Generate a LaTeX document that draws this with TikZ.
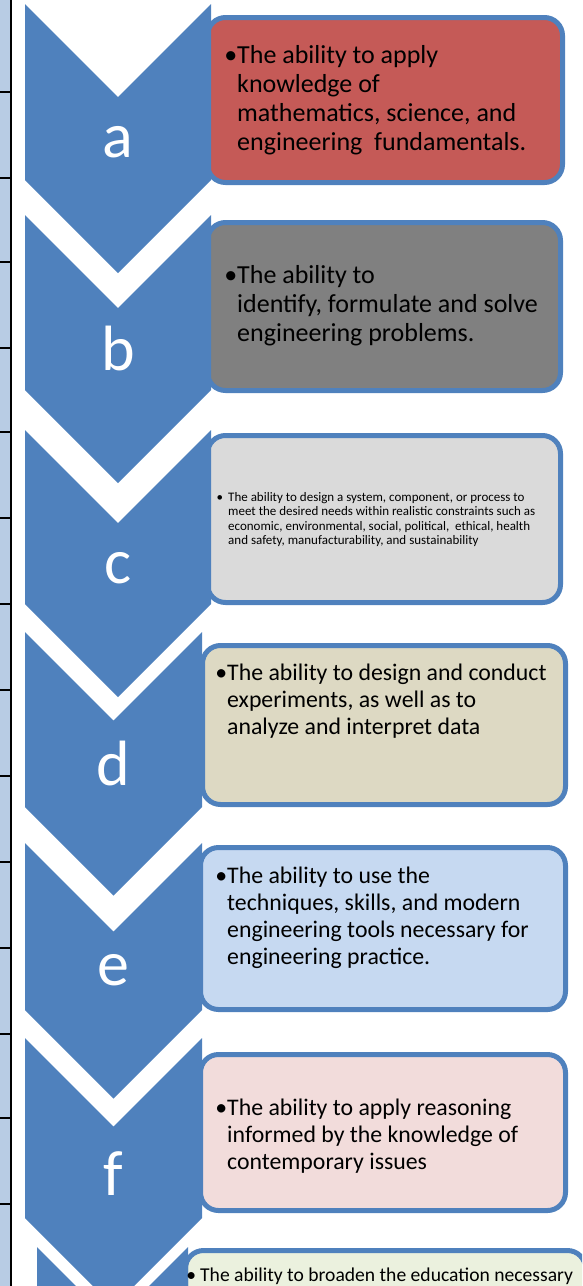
\documentclass[tikz,border=0pt]{standalone}
\usepackage{fontspec}
\setmainfont{Carlito}
\usepackage{tikz}
\usetikzlibrary{positioning}
\definecolor{chevblue}{HTML}{4F81BD}
\definecolor{cellblue}{HTML}{B8CCE4}
\definecolor{fillA}{HTML}{C55A57}
\definecolor{fillB}{HTML}{808080}
\definecolor{fillC}{HTML}{DADADA}
\definecolor{fillD}{HTML}{DDD9C3}
\definecolor{fillE}{HTML}{C6D9F1}
\definecolor{fillF}{HTML}{F2DCDB}
\definecolor{fillG}{HTML}{EBF1DE}

\begin{document}
\begin{tikzpicture}[x=1pt, y=-1pt,
    chevron/.style={fill=chevblue},
    outcome/.style={draw=chevblue, line width=5pt, rounded corners=18pt, anchor=north west, inner sep=0pt, outer sep=0pt},
    letter/.style={text=white, anchor=base, font=\fontsize{64}{64}\selectfont},
    bigtext/.style={align=left, inner sep=0pt, font=\fontsize{26}{29}\selectfont},
    midtext/.style={align=left, inner sep=0pt, font=\fontsize{23.8}{27}\selectfont},
    smalltext/.style={align=left, inner sep=0pt, font=\fontsize{13}{14.4}\selectfont},
    rule/.style={draw=black, line width=2pt}]

    \useasboundingbox (0,0) rectangle (582,1286);
    \clip (0,0) rectangle (582,1286);

    %table edge on the left
    \fill [cellblue] (0,0) rectangle (11,1286);
    \draw [rule] (11,0) -- (11,1286);
    \draw [rule] (0,92) -- (11,92) (0,178) -- (11,178) (0,262) -- (11,262)
      (0,348) -- (11,348) (0,432) -- (11,432) (0,518) -- (11,518)
      (0,604) -- (11,604) (0,690) -- (11,690) (0,776) -- (11,776)
      (0,862) -- (11,862) (0,948) -- (11,948) (0,1034) -- (11,1034)
      (0,1118) -- (11,1118) (0,1204) -- (11,1204);

    %creates the outcome boxes
    \node (boxa) [outcome, fill=fillA, minimum width=355pt, minimum height=165pt] at (207.5,17.5) {};%box a
    \node (boxb) [outcome, fill=fillB, minimum width=353pt, minimum height=168pt] at (207.5,222.5) {};%box b
    \node (boxc) [outcome, fill=fillC, minimum width=353pt, minimum height=167pt] at (207.5,435.5) {};%box c
    \node (boxd) [outcome, fill=fillD, minimum width=363pt, minimum height=159pt] at (202.5,645.5) {};%box d
    \node (boxe) [outcome, fill=fillE, minimum width=365pt, minimum height=162pt] at (200.5,847.5) {};%box e
    \node (boxf) [outcome, fill=fillF, minimum width=365pt, minimum height=156pt] at (200.5,1054.5) {};%box f
    \node (boxg) [outcome, fill=fillG, minimum width=400pt, minimum height=150pt] at (185.5,1250.5) {};%box g

    %draws the chevrons
    \fill [chevron] (25,4) -- (118,97) -- (211,4) -- (211,180) -- (118,273) -- (25,180) -- cycle;%chevron a
    \fill [chevron] (25,215) -- (118,308) -- (211,215) -- (211,390) -- (118,483) -- (25,390) -- cycle;%chevron b
    \fill [chevron] (25,430) -- (118,523) -- (211,430) -- (211,604) -- (118,697) -- (25,604) -- cycle;%chevron c
    \fill [chevron] (25,632) -- (113.5,720.5) -- (202,632) -- (202,807) -- (113.5,895.5) -- (25,807) -- cycle;%chevron d
    \fill [chevron] (25,843) -- (113.5,931.5) -- (202,843) -- (202,1010) -- (113.5,1098.5) -- (25,1010) -- cycle;%chevron e
    \fill [chevron] (25,1038) -- (113.5,1126.5) -- (202,1038) -- (202,1218) -- (113.5,1306.5) -- (25,1218) -- cycle;%chevron f
    \fill [chevron] (37,1247) -- (112.5,1322.5) -- (188,1247) -- (188,1400) -- (112.5,1475) -- (37,1400) -- cycle;%chevron g

    %labels the chevrons
    \node (la) [letter] at (118,157) {a};
    \node (lb) [letter] at (118,370) {b};
    \node (lc) [letter] at (118,583) {c};
    \node (ld) [letter] at (113.5,785) {d};
    \node (le) [letter] at (113.5,985) {e};
    \node (lf) [letter] at (113.5,1195) {f};

    %writes the outcomes
    \node (texta) [bigtext, below right=27.5pt and 29.5pt of boxa.north west]{\llap{\textbullet}The ability to apply\\knowledge of\\mathematics, science, and\\engineering\ \ fundamentals.};
    \node (textb) [bigtext, below right=42.5pt and 29.5pt of boxb.north west]{\llap{\textbullet}The ability to\\identify, formulate and solve\\engineering problems.};
    \node (textc) [smalltext, below right=56.5pt and 20.5pt of boxc.north west]{\llap{\textbullet\hspace{5pt}}The ability to design a system, component, or process to\\meet the desired needs within realistic constraints such as\\economic, environmental, social, political,\ \ ethical, health\\and safety, manufacturability, and sustainability};
    \node (textd) [midtext, below right=18pt and 24.5pt of boxd.north west]{\llap{\textbullet}The ability to design and conduct\\experiments, as well as to\\analyze and interpret data};
    \node (texte) [midtext, below right=19pt and 26.5pt of boxe.north west]{\llap{\textbullet}The ability to use the\\techniques, skills, and modern\\engineering tools necessary for\\engineering practice.};
    \node (textf) [midtext, below right=44pt and 26.5pt of boxf.north west]{\llap{\textbullet}The ability to apply reasoning\\informed by the knowledge of\\contemporary issues};
    \node (textg) [font=\fontsize{19.6}{21}\selectfont, inner sep=0pt, below right=17pt and 14.5pt of boxg.north west]{\llap{\textbullet\hspace{4pt}}The ability to broaden the education necessary};
\end{tikzpicture}
\end{document}
